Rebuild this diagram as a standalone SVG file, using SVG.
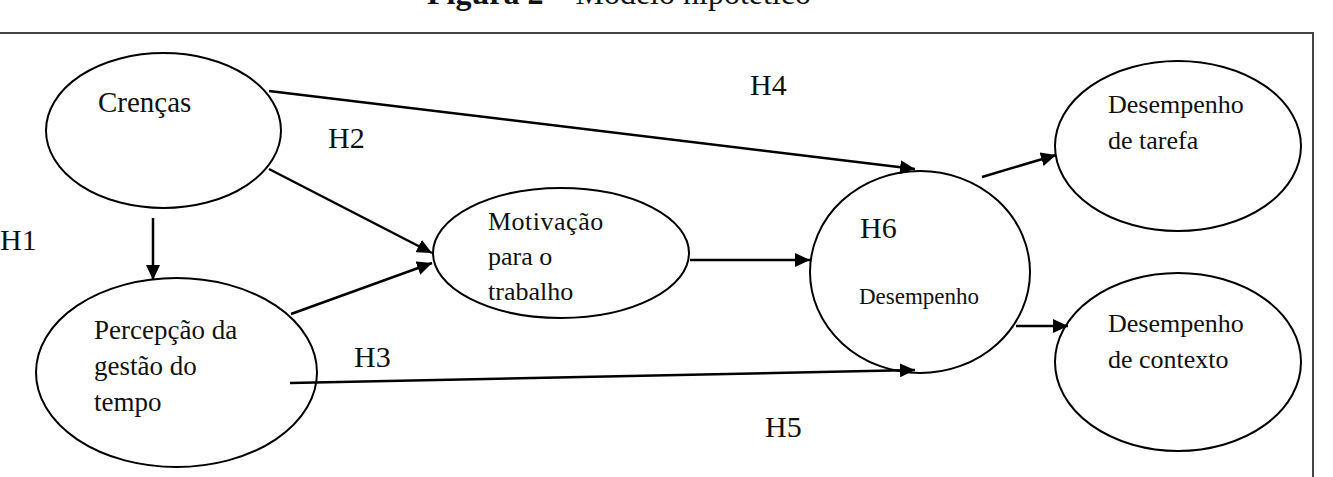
<svg xmlns="http://www.w3.org/2000/svg" width="1333" height="477" viewBox="0 0 1333 477">
<style>
.n{fill:#fff;stroke:#000;stroke-width:2}
.t{font-family:"Liberation Serif","Times New Roman",serif;fill:#111}
.c{stroke:#000;stroke-width:2.5;fill:none;marker-end:url(#ah)}
</style>
<defs>
<marker id="ah" markerUnits="userSpaceOnUse" markerWidth="16" markerHeight="14" refX="15" refY="7" orient="auto">
<path d="M0,0 L15,7 L0,14 z" fill="#000"/>
</marker>
</defs>
<rect width="1333" height="477" fill="#fff"/>
<text class="t" x="427" y="4" font-size="32"><tspan font-weight="bold">Figura 2</tspan> – Modelo hipotético</text>
<rect x="-5" y="33" width="1318" height="460" fill="none" stroke="#444" stroke-width="2"/>
<g id="labels">
<text class="t" x="0" y="250" font-size="30">H1</text>
<text class="t" x="328" y="148" font-size="30">H2</text>
<text class="t" x="354" y="367" font-size="30">H3</text>
<text class="t" x="750" y="95" font-size="30">H4</text>
<text class="t" x="765" y="437" font-size="30">H5</text>
</g>
<g id="crencas">
<ellipse class="n" cx="163.5" cy="130.5" rx="117.5" ry="77.5"/>
<text class="t" x="98" y="112" font-size="29">Crenças</text>
</g>
<g id="percepcao">
<ellipse class="n" cx="176.5" cy="372.5" rx="140.5" ry="94.5"/>
<text class="t" font-size="27"><tspan x="94" y="339">Percepção da</tspan><tspan x="94" y="375">gestão do</tspan><tspan x="94" y="411">tempo</tspan></text>
</g>
<g id="motivacao">
<ellipse class="n" cx="561" cy="253" rx="128" ry="65"/>
<text class="t" font-size="26"><tspan x="488" y="230" letter-spacing="0.5">Motivação</tspan><tspan x="488" y="265">para o</tspan><tspan x="488" y="300">trabalho</tspan></text>
</g>
<g id="desempenho">
<ellipse class="n" cx="920" cy="272" rx="110" ry="101"/>
<text class="t" x="860" y="238" font-size="30">H6</text>
<text class="t" x="859" y="304" font-size="23">Desempenho</text>
</g>
<g id="tarefa">
<ellipse class="n" cx="1178" cy="146" rx="123" ry="85"/>
<text class="t" font-size="26"><tspan x="1108" y="113">Desempenho</tspan><tspan x="1108" y="149">de tarefa</tspan></text>
</g>
<g id="contexto">
<ellipse class="n" cx="1178" cy="362" rx="123" ry="89"/>
<text class="t" font-size="26"><tspan x="1108" y="332">Desempenho</tspan><tspan x="1108" y="368">de contexto</tspan></text>
</g>
<g id="connectors">
<line class="c" x1="153" y1="218" x2="153" y2="280"/>
<line class="c" x1="269" y1="169" x2="432" y2="253"/>
<line class="c" x1="291" y1="314" x2="432" y2="263"/>
<line class="c" x1="269" y1="91" x2="915" y2="169"/>
<line class="c" x1="290" y1="383" x2="915" y2="370"/>
<line class="c" x1="690" y1="260" x2="810" y2="260"/>
<line class="c" x1="982" y1="177" x2="1056" y2="155"/>
<line class="c" x1="1016" y1="326" x2="1068" y2="326"/>
</g>
</svg>
